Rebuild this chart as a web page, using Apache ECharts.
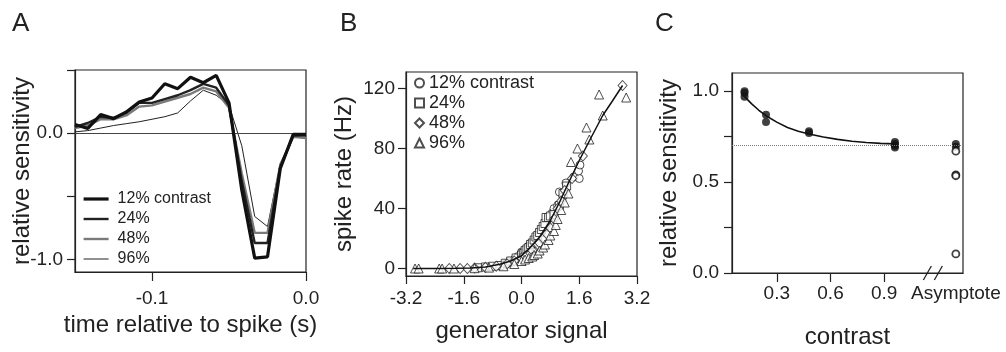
<!DOCTYPE html>
<html>
<head>
<meta charset="utf-8">
<script src="https://cdn.jsdelivr.net/npm/echarts@6/dist/echarts.min.js"></script>
<style>
html,body{margin:0;padding:0;background:#fff;}
#chart{width:1006px;height:352px;}
</style>
</head>
<body>
<div id="chart"></div>
<script>
// ---------- Panel A : filters ----------
const aTimes = [-0.15, -0.1417, -0.1333, -0.125, -0.1167, -0.1083, -0.1, -0.0917, -0.0833, -0.075,
  -0.0667, -0.0583, -0.05, -0.0417, -0.0333, -0.025, -0.0167, -0.0083, 0];
const aFilter12 = [0.068, 0.037, 0.147, 0.115, 0.168, 0.247, 0.278, 0.391, 0.352, 0.443, 0.399, 0.457, 0.24, -0.45, -0.99, -0.98, -0.28, -0.01, -0.01];
const aFilter24 = [0.05, 0.08, 0.13, 0.12, 0.16, 0.24, 0.24, 0.27, 0.30, 0.34, 0.39, 0.36, 0.22, -0.38, -0.87, -0.87, -0.27, -0.02, -0.02];
const aFilter48 = [0.04, 0.06, 0.11, 0.11, 0.14, 0.21, 0.22, 0.25, 0.28, 0.31, 0.36, 0.33, 0.20, -0.32, -0.79, -0.79, -0.25, -0.03, -0.04];
const aFilter96 = [0.01, 0.02, 0.04, 0.06, 0.075, 0.09, 0.11, 0.13, 0.16, 0.255, 0.34, 0.30, 0.22, -0.10, -0.66, -0.74, -0.24, -0.03, -0.04];
const aLegendNames = ['12% contrast', '24%', '48%', '96%'];
const aXLabels = [-0.1, 0.0];
const aXTicks = [-0.1, 0.0];
const aYLabels = [-1.0, 0.0];
const aYTicks = [-1.0, -0.5, 0.0, 0.5];

// ---------- Panel B : static nonlinearity ----------
const bCircles12 = [[-0.45,3],[-0.3,4],[-0.2,6],[-0.1,8],[0.0,11],[0.05,9],[0.1,12],[0.2,15],[0.25,14],[0.3,17],
  [0.4,20],[0.45,19],[0.55,24],[0.65,27],[0.7,30],[0.85,37],[0.9,40],[1.0,42],[1.05,51],[1.15,48],[1.23,57],
  [1.45,61],[1.6,60],[1.58,65],[1.62,69]];
const bSquares24 = [[-1.2,0.5],[-1.0,1],[-0.8,1.5],[-0.6,2],[-0.45,3.5],[-0.3,5],[-0.15,7],[0.0,9],[0.05,10],[0.1,12],
  [0.15,13],[0.2,14],[0.25,16],[0.3,17],[0.35,19],[0.4,21],[0.45,22],[0.5,24],[0.55,26],[0.6,28],[0.65,30],[0.68,34],
  [0.75,34],[0.8,35],[0.9,36],[1.05,42],[1.15,50],[1.25,55]];
const bDiamonds48 = [[-2.0,0],[-1.7,0],[-1.5,0],[-1.3,0.3],[-1.0,0.8],[-0.7,1.5],[-0.4,3],[-0.2,5],[0.0,7],[0.1,8],
  [0.15,9],[0.25,10],[0.3,12],[0.45,16],[0.5,17],[0.6,20],[0.7,23],[0.8,27],[0.9,33],[1.0,40],[1.1,45],[1.2,52],
  [1.4,60],[1.7,75],[2.8,122]];
const bTriangles96 = [[-2.95,0],[-2.85,0],[-2.28,0],[-2.2,0],[-1.87,0],[-1.3,0.2],[-0.9,0.6],[-0.5,1.5],[-0.2,3],[0.0,5],
  [0.1,6],[0.2,7],[0.3,8],[0.35,9],[0.45,10],[0.5,12],[0.6,14],[0.65,16],[0.75,19],[0.8,22],[0.9,25],[0.95,29],
  [1.0,33],[1.1,39],[1.2,44],[1.3,50],[1.37,71],[1.55,80],[1.8,94],[1.88,86],[2.15,116],[2.25,102],[2.9,114]];
const bCurve = [[-3.0,0],[-2.4,0],[-1.8,0.1],[-1.4,0.4],[-1.0,1],[-0.6,2.8],[-0.3,5],[0.0,8.5],[0.2,13],[0.5,21],
  [0.8,32],[1.05,44],[1.3,57],[1.6,72],[1.9,86],[2.25,102],[2.5,111],[2.8,122]];
const bLegendNames = ['12% contrast', '24%', '48%', '96%'];
const bXTicks = [-3.2, -1.6, 0.0, 1.6, 3.2];
const bYTicks = [0, 40, 80, 120];

// ---------- Panel C : gain vs contrast ----------
const cFilled = [[0.12,1.0],[0.12,0.99],[0.12,0.97],[0.24,0.87],[0.24,0.83],[0.48,0.78],[0.48,0.77],
  [0.96,0.72],[0.96,0.71],[0.96,0.70],[0.96,0.69],[1.3,0.71],[1.3,0.695]];
const cOpen = [[1.3,0.67],[1.3,0.54],[1.3,0.535],[1.3,0.105]];
const cFit = [[0.12,0.97],[0.16,0.93],[0.2,0.895],[0.24,0.865],[0.3,0.83],[0.36,0.80],[0.42,0.78],[0.48,0.765],
  [0.56,0.748],[0.64,0.735],[0.72,0.725],[0.8,0.718],[0.88,0.713],[0.96,0.71]];
const cAsymptoteLevel = 0.7;
const cAsymptoteX = 1.3;
const cAsymptoteLabel = 'Asymptote';
const cBreakX = 1.18;
const cXTicks = [0.3, 0.6, 0.9];
const cYTicks = [0, 0.25, 0.5, 0.75, 1.0];
const cYLabels = [0.0, 0.5, 1.0];

// ---------- styling ----------
const INK = '#222';
const FONT = "'Liberation Sans', Arial, Helvetica, sans-serif";
const axisLineStyle = {color: INK, width: 1.2};
const zip = (xs, ys) => xs.map((x, i) => [x, ys[i]]);
const f1 = v => (Math.abs(v) < 1e-9 ? 0 : v).toFixed(1);
const aStyles = [
  {width: 3.2, color: '#111'},
  {width: 2.4, color: '#222'},
  {width: 2.4, color: '#7a7a7a'},
  {width: 1, color: '#222'}
];

function valueAxis(o) {
  return Object.assign({
    type: 'value',
    axisLine: {show: true, onZero: false, lineStyle: axisLineStyle},
    splitLine: {show: false},
    nameLocation: 'middle',
    nameMoveOverlap: false,
    nameTextStyle: {fontSize: 24, color: INK},
  }, o);
}

const chart = echarts.init(document.getElementById('chart'), null, {renderer: 'canvas'});

const gridBase = {show: true, borderColor: INK, borderWidth: 1.2, containLabel: false, outerBoundsMode: 'none'};

const option = {
  animation: false,
  backgroundColor: '#fff',
  textStyle: {fontFamily: FONT, color: INK},
  title: [
    {text: 'A', left: 12, top: 11, padding: 0, textStyle: {fontSize: 26, fontWeight: 'normal', color: INK}},
    {text: 'B', left: 340, top: 11, padding: 0, textStyle: {fontSize: 26, fontWeight: 'normal', color: INK}},
    {text: 'C', left: 655, top: 11, padding: 0, textStyle: {fontSize: 26, fontWeight: 'normal', color: INK}}
  ],
  grid: [
    Object.assign({left: 75, top: 70, width: 231, height: 202}, gridBase),
    Object.assign({left: 406, top: 72, width: 231, height: 204}, gridBase),
    Object.assign({left: 732, top: 73, width: 231, height: 200}, gridBase)
  ],
  legend: [
    {
      left: 82, top: 189, padding: 0, orient: 'vertical', selectedMode: false,
      itemWidth: 25, itemHeight: 14, itemGap: 0,
      textStyle: {fontSize: 16, lineHeight: 20, color: INK, padding: [0, 0, 0, 4]},
      data: aLegendNames.map((n, i) => ({name: n, lineStyle: aStyles[i], itemStyle: {opacity: 0}}))
    },
    {
      left: 414, top: 73, padding: 0, orient: 'vertical', selectedMode: false,
      itemWidth: 9, itemHeight: 9, itemGap: 0,
      textStyle: {fontSize: 18, lineHeight: 20, color: INK},
      formatter: name => bLegendNames[['B12','B24','B48','B96'].indexOf(name)],
      data: ['B12', 'B24', 'B48', 'B96']
    }
  ],
  xAxis: [
    valueAxis({
      gridIndex: 0, min: -0.15, max: 0,
      axisTick: {show: true, length: 9, customValues: aXTicks, lineStyle: axisLineStyle},
      axisLabel: {customValues: aXLabels, formatter: f1, fontSize: 19, margin: 17, color: INK},
      name: 'time relative to spike (s)', nameGap: 41
    }),
    valueAxis({
      gridIndex: 1, min: -3.2, max: 3.2,
      axisTick: {show: true, length: 8, customValues: bXTicks, lineStyle: axisLineStyle},
      axisLabel: {customValues: bXTicks, formatter: f1, fontSize: 19, margin: 13, color: INK},
      name: 'generator signal', nameGap: 43
    }),
    valueAxis({
      gridIndex: 2, min: 0.05, max: 1.34,
      axisTick: {show: true, length: 9, customValues: cXTicks, lineStyle: axisLineStyle},
      axisLabel: {customValues: cXTicks.concat([cAsymptoteX]),
        formatter: v => (Math.abs(v - cAsymptoteX) < 1e-6 ? cAsymptoteLabel : f1(v)),
        fontSize: 19, margin: 11, color: INK},
      name: 'contrast', nameGap: 52
    })
  ],
  yAxis: [
    valueAxis({
      gridIndex: 0, min: -1.1, max: 0.5,
      axisTick: {show: true, length: 8, customValues: aYTicks, lineStyle: axisLineStyle},
      axisLabel: {customValues: aYLabels, formatter: f1, fontSize: 19, margin: 12, color: INK},
      name: 'relative sensitivity', nameGap: 41, nameRotate: 90
    }),
    valueAxis({
      gridIndex: 1, min: -5, max: 131,
      axisTick: {show: true, length: 8, customValues: bYTicks, lineStyle: axisLineStyle},
      axisLabel: {customValues: bYTicks, fontSize: 19, margin: 11, color: INK},
      name: 'spike rate (Hz)', nameGap: 50, nameRotate: 90
    }),
    valueAxis({
      gridIndex: 2, min: 0, max: 1.1,
      axisTick: {show: true, length: 8, customValues: cYTicks, lineStyle: axisLineStyle},
      axisLabel: {customValues: cYLabels, formatter: f1, fontSize: 19, margin: 13, color: INK},
      name: 'relative sensitivity', nameGap: 51, nameRotate: 90
    })
  ],
  series: [
    // Panel A
    {name: aLegendNames[3], type: 'line', xAxisIndex: 0, yAxisIndex: 0, symbol: 'none', z: 2,
      data: zip(aTimes, aFilter96), lineStyle: aStyles[3], itemStyle: {color: aStyles[3].color},
      markLine: {silent: true, symbol: 'none', label: {show: false},
        lineStyle: {type: 'solid', color: '#444', width: 1.2}, data: [{yAxis: 0}]}},
    {name: aLegendNames[2], type: 'line', xAxisIndex: 0, yAxisIndex: 0, symbol: 'none', z: 3,
      data: zip(aTimes, aFilter48), lineStyle: aStyles[2], itemStyle: {color: aStyles[2].color}},
    {name: aLegendNames[1], type: 'line', xAxisIndex: 0, yAxisIndex: 0, symbol: 'none', z: 4,
      data: zip(aTimes, aFilter24), lineStyle: aStyles[1], itemStyle: {color: aStyles[1].color}},
    {name: aLegendNames[0], type: 'line', xAxisIndex: 0, yAxisIndex: 0, symbol: 'none', z: 5,
      data: zip(aTimes, aFilter12), lineStyle: aStyles[0], itemStyle: {color: aStyles[0].color}},

    // Panel B
    {name: 'B12', type: 'scatter', xAxisIndex: 1, yAxisIndex: 1, symbol: 'circle', symbolSize: 8, data: bCircles12,
      itemStyle: {color: '#fff', borderColor: '#222', borderWidth: 1}},
    {name: 'B24', type: 'scatter', xAxisIndex: 1, yAxisIndex: 1, symbol: 'rect', symbolSize: 8, data: bSquares24,
      itemStyle: {color: '#fff', borderColor: '#222', borderWidth: 1}},
    {name: 'B48', type: 'scatter', xAxisIndex: 1, yAxisIndex: 1, symbol: 'diamond', symbolSize: [9, 10], data: bDiamonds48,
      itemStyle: {color: '#fff', borderColor: '#222', borderWidth: 1}},
    {name: 'B96', type: 'scatter', xAxisIndex: 1, yAxisIndex: 1, symbol: 'triangle', symbolSize: 9, data: bTriangles96,
      itemStyle: {color: '#fff', borderColor: '#222', borderWidth: 1}},
    {name: 'Bfit', type: 'line', xAxisIndex: 1, yAxisIndex: 1, symbol: 'none', z: 6, data: bCurve,
      lineStyle: {width: 1.5, color: '#111'}},

    // Panel C
    {name: 'Cfit', type: 'line', xAxisIndex: 2, yAxisIndex: 2, symbol: 'none', z: 3, data: cFit,
      lineStyle: {width: 1.6, color: '#111'},
      markLine: {silent: true, symbol: 'none', label: {show: false},
        lineStyle: {type: 'dotted', color: '#777', width: 1}, data: [{yAxis: cAsymptoteLevel}]}},
    {name: 'Cfilled', type: 'scatter', xAxisIndex: 2, yAxisIndex: 2, symbol: 'circle', symbolSize: 8, z: 4,
      data: cFilled, itemStyle: {color: '#111'}},
    {name: 'Copen', type: 'scatter', xAxisIndex: 2, yAxisIndex: 2, symbol: 'circle', symbolSize: 7, z: 4,
      data: cOpen, itemStyle: {color: '#fff', borderColor: '#111', borderWidth: 1.8}},
    {name: 'Cbreak', type: 'custom', xAxisIndex: 2, yAxisIndex: 2, z: 5, clip: false,
      data: [[cBreakX, 0]],
      renderItem: (params, api) => {
        const p = api.coord([api.value(0), api.value(1)]);
        const st = {stroke: INK, lineWidth: 1.3};
        return {type: 'group', children: [
          {type: 'line', shape: {x1: p[0] - 11, y1: p[1] + 7, x2: p[0] - 3, y2: p[1] - 7}, style: st},
          {type: 'line', shape: {x1: p[0] + 0, y1: p[1] + 7, x2: p[0] + 8, y2: p[1] - 7}, style: st}
        ]};
      }}
  ]
};
chart.setOption(option);
</script>
</body>
</html>
